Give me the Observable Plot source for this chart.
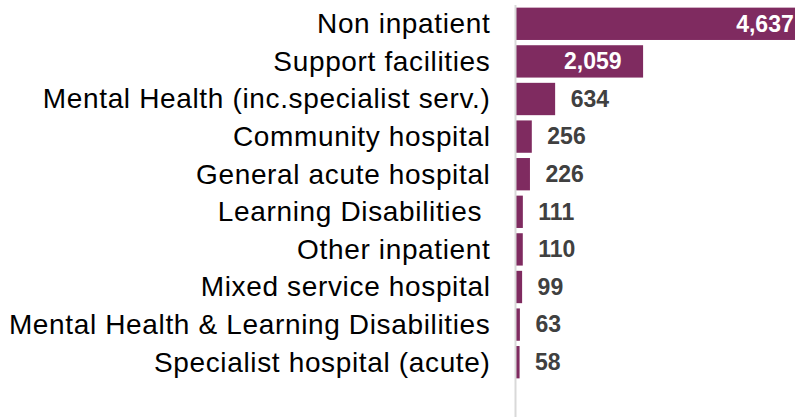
<!DOCTYPE html>
<html>
<head>
<meta charset="utf-8">
<script src="https://cdn.jsdelivr.net/npm/d3@7"></script>
<script src="https://cdn.jsdelivr.net/npm/@observablehq/plot@0.6"></script>
<style>
  html, body { margin: 0; padding: 0; background: #fff; overflow: hidden; }
  svg text { white-space: pre; }
  .ylab text { letter-spacing: 0.65px; }
</style>
</head>
<body>
<div id="chart"></div>
<script>
const categories = [
  "Non inpatient",
  "Support facilities",
  "Mental Health (inc.specialist serv.)",
  "Community hospital",
  "General acute hospital",
  "Learning Disabilities ",
  "Other inpatient",
  "Mixed service hospital",
  "Mental Health & Learning Disabilities",
  "Specialist hospital (acute)"
];
const values = [4637, 2059, 634, 256, 226, 111, 110, 99, 63, 58];

const data = categories.map((c, i) => ({category: c, value: values[i], rank: i}));
const fmt = d3.format(",");

const chart = Plot.plot({
  width: 795,
  height: 417,
  marginLeft: 516,
  marginRight: 0,
  marginTop: 5,
  marginBottom: 0,
  style: {fontFamily: "Liberation Sans, Arial, sans-serif", background: "#fff"},
  x: {domain: [0, 4520], axis: null},
  y: {domain: categories, range: [5, 381], paddingInner: 0.14, paddingOuter: 0.07, round: false, label: null},
  marks: [
    Plot.barX(data, {x: "value", y: "category", fill: "#7f2b60", clip: true}),
    Plot.ruleX([0], {stroke: "#d9d9d9", strokeWidth: 2, dx: -1}),
    Plot.axisY({tickSize: 0, tickPadding: 26, fontSize: 28, fill: "#000", label: null, className: "ylab"}),
    Plot.text(data.filter(d => d.rank === 0), {x: "value", y: "category", text: d => fmt(d.value), textAnchor: "end", dx: -9, fill: "#fff", fontWeight: "bold", fontSize: 23, clip: true}),
    Plot.text(data.filter(d => d.rank === 1), {x: "value", y: "category", text: d => fmt(d.value), textAnchor: "end", dx: -22, fill: "#fff", fontWeight: "bold", fontSize: 23}),
    Plot.text(data.filter(d => d.value < 1000), {x: "value", y: "category", text: d => fmt(d.value), textAnchor: "start", dx: 15, fill: "#404040", fontWeight: "bold", fontSize: 23})
  ]
});
document.getElementById("chart").appendChild(chart);
</script>
</body>
</html>
